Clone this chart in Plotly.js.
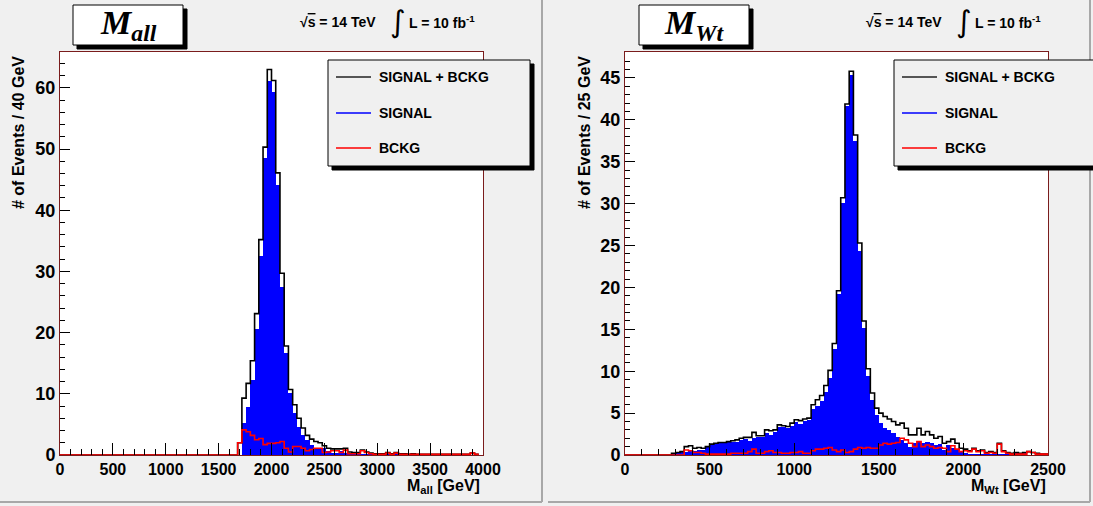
<!DOCTYPE html>
<html>
<head>
<meta charset="utf-8">
<script src="https://cdn.plot.ly/plotly-3.0.1.min.js"></script>
<style>html,body{margin:0;padding:0;background:#f0f0f0;}#chart{width:1093px;height:506px;}</style>
</head>
<body>
<div id="chart"></div>
<script>
// ---------- DATA ----------
// Left panel: M_all, 100 bins of 40 GeV from 0 to 4000
const allBinStart = 0, allBinWidth = 40;
const allTotal = [
0,0,0,0,0,0,0,0,0,0, 0,0,0,0,0,0,0,0,0,0, 0,0,0,0,0,0,0,0,0,0, 0,0,0,0,0,0,0,0,0,0, 0,0,
2.0,9.3,11.7,15.4,23.1,35.2,50.3,63.0,61.2,46.1,29.7,17.8,10.7,8.2,6.0,4.4,3.2,2.6,2.2,2.0,
1.5,1.1,1.0,1.0,1.0,1.1,0.5,0.4,0.4,0.8,0.5,0.3,0.2,0.2,0.2,0.4,0.2,0.4,0.2,0.2,
0.1,0.2,0.1,0.1,0.1,0.1,0.1,0.1,0.1,0.1,0.1,0.1,0.1,0.1,0.1,0.3,0.1];
const allBckg = [
0,0,0,0,0,0,0,0,0,0, 0,0,0,0,0,0,0,0,0,0, 0,0,0,0,0,0,0,0,0,0, 0,0,0,0,0,0,0,0,0,0, 0,0,
2.0,4.1,3.8,3.2,2.5,2.7,1.7,1.9,1.9,2.0,2.2,1.1,0.5,1.4,1.4,1.1,0.7,0.9,1.1,1.1,
0.4,0.5,0.7,0.7,0.4,0.8,0.2,0.2,0.2,0.7,0.4,0.2,0.1,0.1,0.1,0.3,0.1,0.3,0.1,0.1,
0.1,0.1,0.1,0.1,0.1,0.1,0.1,0.1,0.1,0.1,0.1,0.1,0.1,0.1,0.1,0.3,0.1];
const allSignal = [
0,0,0,0,0,0,0,0,0,0, 0,0,0,0,0,0,0,0,0,0, 0,0,0,0,0,0,0,0,0,0, 0,0,0,0,0,0,0,0,0,0, 0,0,
0.0,5.2,7.9,12.2,20.6,32.5,48.6,61.1,59.3,44.1,27.5,16.7,10.2,6.8,4.6,3.3,2.5,1.7,1.1,0.9,
1.1,0.6,0.3,0.3,0.6,0.3,0.3,0.2,0.2,0.1,0.1,0.1,0.1,0.1,0.1,0.1,0.1,0.1,0.1,0.1,
0.0,0.1,0,0,0,0,0,0,0,0,0,0,0,0,0,0,0];

// Right panel: M_Wt, 100 bins of 25 GeV from 0 to 2500
const wtBinStart = 0, wtBinWidth = 25;
const wtTotal = [
0,0,0,0,0,0,0,0,0,0, 0,
0.2,0.3,0.4,1.0,1.1,0.8,0.9,0.8,1.0,1.3,1.4,1.5,1.5,1.6,1.7,1.8,2.0,2.1,2.1,
2.7,2.3,2.3,3.0,2.9,3.0,3.6,3.5,3.4,3.8,4.2,4.1,4.3,4.4,6.0,6.6,7.1,8.3,10.1,13.3,
19.6,30.7,41.9,45.8,38.2,25.3,16.0,10.3,7.4,5.6,5.0,4.6,4.3,4.0,3.6,3.8,3.2,2.4,2.4,3.2,
2.4,2.8,2.4,2.0,2.2,1.4,1.6,1.9,1.4,0.8,0.7,0.5,0.8,0.5,0.6,0.3,0.4,0.3,1.4,0.5,
0.3,0.2,0.3,0.2,0.3,0.4,0.3,0.2,0.1,0.1];
const wtBckg = [
0,0,0,0,0,0,0,0,0,0, 0,
0,0,0,0.6,0.5,0.3,0.3,0.2,0.1,0.1,0.1,0.1,0.1,0.1,0.2,0.2,0.2,0.2,0.4,
0.7,0.2,0.2,0.4,0.5,0.3,0.3,0.2,0.2,0.3,0.3,0.4,0.2,0.2,0.5,0.7,0.7,0.8,0.9,0.6,
0.4,0.6,0.3,0.4,0.7,0.9,0.8,0.9,0.8,0.8,1.2,1.4,1.3,1.4,1.5,2.0,1.8,1.4,1.0,1.6,
1.0,1.2,1.0,0.8,0.9,0.8,0.4,1.1,0.7,0.4,0.5,0.4,0.7,0.4,0.5,0.2,0.3,0.2,1.3,0.4,
0.2,0.1,0.1,0.1,0.1,0.4,0.3,0.1,0.1,0.1];
const wtSignal = [
0,0,0,0,0,0,0,0,0,0, 0,
0.2,0.3,0.4,0.4,0.6,0.5,0.6,0.6,0.9,1.2,1.3,1.4,1.4,1.5,1.5,1.6,1.8,1.9,1.7,
2.0,2.1,2.1,2.6,2.4,2.7,3.3,3.3,3.2,3.5,3.9,3.7,4.1,4.2,5.5,5.9,6.4,7.5,9.2,12.7,
19.2,30.1,41.6,45.4,37.5,24.4,15.2,9.4,6.6,4.8,3.8,3.2,3.0,2.6,2.1,1.8,1.4,1.0,1.4,1.6,
1.4,1.6,1.4,1.2,1.3,0.6,1.2,0.8,0.7,0.4,0.2,0.1,0.1,0.1,0.1,0.1,0.1,0.1,0.1,0.1,
0.1,0.1,0.2,0.1,0.2,0.0,0.0,0.1,0.0,0.0];

const seriesNames = ['SIGNAL + BCKG', 'SIGNAL', 'BCKG'];
const xTitles = ['M<sub>all</sub> [GeV]', 'M<sub>Wt</sub> [GeV]'];
const yTitles = ['# of Events / 40 GeV', '# of Events / 25 GeV'];
const panelTitles = ['M<sub>all</sub>', 'M<sub>Wt</sub>'];
const energyText = '√<span style="text-decoration:overline">s</span> = 14 TeV';
const lumiText = 'L = 10 fb<sup>-1</sup>';

// ---------- HELPERS ----------
const W = 1093, H = 506;
const PX = v => v / W;
const PY = v => 1 - v / H;
const FONT = 'Liberation Sans, Arial, sans-serif';

function centers(start, w, n) { const a = []; for (let i = 0; i < n; i++) a.push(start + (i + 0.5) * w); return a; }
function stepX(start, w, n) { const a = []; for (let i = 0; i <= n; i++) a.push(start + i * w); return a; }
function stepY(vals) { return vals.concat([vals[vals.length - 1]]); }

function panelTraces(start, w, tot, sig, bck, xa, ya) {
  const n = tot.length;
  return [
    { type: 'bar', x: centers(start, w, n), y: sig, width: w, xaxis: xa, yaxis: ya,
      marker: { color: '#0000ff', line: { width: 0 } }, showlegend: false, hoverinfo: 'skip', name: seriesNames[1] },
    { type: 'scatter', mode: 'lines', x: stepX(start, w, n), y: stepY(tot), xaxis: xa, yaxis: ya,
      line: { color: '#000000', width: 1.6, shape: 'hv' }, showlegend: false, hoverinfo: 'skip', name: seriesNames[0] },
    { type: 'scatter', mode: 'lines', x: stepX(start, w, n), y: stepY(bck), xaxis: xa, yaxis: ya,
      line: { color: '#ff0000', width: 1.6, shape: 'hv' }, showlegend: false, hoverinfo: 'skip', name: seriesNames[2] }
  ];
}

const data = [].concat(
  panelTraces(allBinStart, allBinWidth, allTotal, allSignal, allBckg, 'x', 'y'),
  panelTraces(wtBinStart, wtBinWidth, wtTotal, wtSignal, wtBckg, 'x2', 'y2')
);

const yBot = PY(455), yTop = PY(52);
function xAxis(dom, rng) {
  return { domain: dom, range: rng, dtick: 500, tick0: 0, ticks: 'inside', ticklen: 12, tickwidth: 1, tickcolor: '#000',
    minor: { dtick: 100, ticks: 'inside', ticklen: 6, tickcolor: '#000' },
    showline: true, linecolor: '#7a1c1c', linewidth: 1, mirror: true, showgrid: false, zeroline: false,
    tickfont: { family: FONT, size: 16, color: '#000', weight: 'bold' }, fixedrange: true };
}
function yAxis(dom, rng, dt, mdt, anchor) {
  return { domain: dom, range: rng, dtick: dt, tick0: 0, ticks: 'inside', ticklen: 10, tickwidth: 1, tickcolor: '#000',
    minor: { dtick: mdt, ticks: 'inside', ticklen: 5, tickcolor: '#000' }, anchor: anchor,
    showline: true, linecolor: '#7a1c1c', linewidth: 1, mirror: true, showgrid: false, zeroline: false,
    tickfont: { family: FONT, size: 18, color: '#000', weight: 'bold' }, fixedrange: true };
}

const shapes = [];
const annotations = [];

function rect(x0, y0, x1, y1, fill, lineColor, lw) {
  shapes.push({ type: 'rect', xref: 'paper', yref: 'paper', x0: PX(x0), x1: PX(x1), y0: PY(y1), y1: PY(y0),
    fillcolor: fill, line: { color: lineColor, width: lw }, layer: 'above' });
}
function hline(x0, x1, y, color, lw) {
  shapes.push({ type: 'line', xref: 'paper', yref: 'paper', x0: PX(x0), x1: PX(x1), y0: PY(y), y1: PY(y),
    line: { color: color, width: lw }, layer: 'above' });
}
function vline(x, y0, y1, color, lw) {
  shapes.push({ type: 'line', xref: 'paper', yref: 'paper', x0: PX(x), x1: PX(x), y0: PY(y0), y1: PY(y1),
    line: { color: color, width: lw }, layer: 'above' });
}
function text(t, x, y, opts) {
  annotations.push(Object.assign({ text: t, xref: 'paper', yref: 'paper', x: PX(x), y: PY(y), showarrow: false,
    xanchor: 'left', yanchor: 'middle', font: { family: FONT, size: 14, color: '#000', weight: 'bold' } }, opts || {}));
}

// pad borders (ROOT bevel)
vline(542, 0, 502, '#a8a8a8', 2);
vline(1090, 0, 502, '#a8a8a8', 2);
hline(0, 542, 502, '#a8a8a8', 2);
hline(548, 1090, 502, '#a8a8a8', 2);

function panelDecor(off, idx) {
  // title box with shadow
  rect(off + 77, 9, off + 187, 49, '#000', '#000', 1);
  rect(off + 73, 5, off + 183, 45, '#fff', '#000', 1);
  text('<b><i>' + panelTitles[idx] + '</i></b>', off + 128, 25,
    { xanchor: 'center', font: { family: 'Liberation Serif, Times New Roman, serif', size: 34, color: '#000' } });
  // energy / lumi
  text(energyText, off + 298, 22);
  text('∫', off + 398, 22, { xanchor: 'center', font: { family: 'DejaVu Sans', size: 30, color: '#000' } });
  text(lumiText, off + 407, 22);
  // legend box with shadow
  const lx0 = off + 328, lx1 = off + 530;
  rect(lx0 + 4, 64, lx1 + 4, 170, '#000', '#000', 1);
  rect(lx0, 60, lx1, 166, '#f0f0f0', '#000', 1);
  const cols = ['#222222', '#0000ff', '#ff0000'];
  const ys = [77, 113, 148];
  for (let i = 0; i < 3; i++) {
    hline(lx0 + 8, lx0 + 43, ys[i], cols[i], 1.5);
    text(seriesNames[i], lx0 + 49, ys[i]);
  }
  // axis titles
  text(yTitles[idx], off + 18, 133, { xanchor: 'center', textangle: -90,
    font: { family: FONT, size: 16, color: '#000', weight: 'bold' } });
  text(xTitles[idx], off + 482, 486, { xanchor: 'right',
    font: { family: FONT, size: 16, color: '#000', weight: 'bold' } });
}
panelDecor(0, 0);
panelDecor(566, 1);

const layout = {
  width: W, height: H,
  margin: { l: 0, r: 0, t: 0, b: 0 },
  paper_bgcolor: '#f0f0f0', plot_bgcolor: '#ffffff',
  bargap: 0, barmode: 'overlay', showlegend: false,
  xaxis: xAxis([PX(60), PX(483)], [0, 4000]),
  yaxis: yAxis([yBot, yTop], [0, 65.85], 10, 2, 'x'),
  xaxis2: Object.assign(xAxis([PX(625), PX(1048)], [0, 2500]), { anchor: 'y2' }),
  yaxis2: yAxis([yBot, yTop], [0, 48.1], 5, 1, 'x2'),
  shapes: shapes, annotations: annotations
};
layout.xaxis.anchor = 'y';

Plotly.newPlot('chart', data, layout, { displayModeBar: false, staticPlot: true });
</script>
</body>
</html>
